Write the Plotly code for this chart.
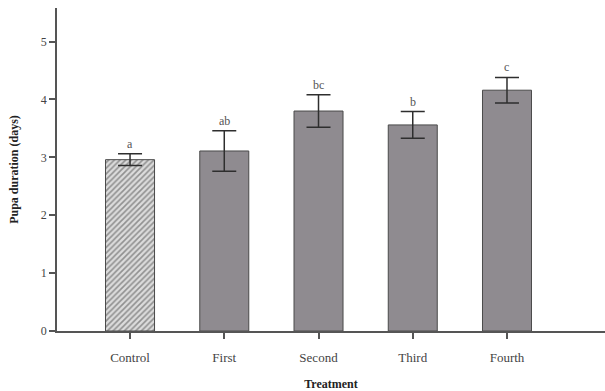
import plotly.graph_objects as go

categories = ["Control", "First", "Second", "Third", "Fourth"]
means = [2.96, 3.11, 3.80, 3.56, 4.16]
errors = [0.10, 0.35, 0.28, 0.23, 0.22]
letters = ["a", "ab", "bc", "b", "c"]
y_ticks = [0, 1, 2, 3, 4, 5]

serif = "Liberation Serif"

fig = go.Figure()
fig.add_trace(go.Bar(
    x=categories,
    y=means,
    width=0.52,
    marker=dict(
        color=["#dcdcdc", "#8f8b90", "#8f8b90", "#8f8b90", "#8f8b90"],
        line=dict(color="#4a4a4a", width=1),
        pattern=dict(
            shape=["/", "", "", "", ""],
            fgcolor="#7a7a7a",
            bgcolor=["#dcdcdc", "#8f8b90", "#8f8b90", "#8f8b90", "#8f8b90"],
            size=4,
            solidity=0.4,
        ),
    ),
    error_y=dict(type="data", array=errors, visible=True,
                 color="#2e2e2e", thickness=1.5, width=12),
    showlegend=False,
))

for c, m, e, l in zip(categories, means, errors, letters):
    fig.add_annotation(x=c, y=m + e, text=l, showarrow=False,
                       yanchor="bottom", yshift=1,
                       font=dict(family=serif, size=12, color="#555"))

fig.update_layout(
    width=605, height=391,
    margin=dict(l=57, r=0, t=8, b=60),
    plot_bgcolor="white", paper_bgcolor="white",
)
fig.update_xaxes(
    range=[-0.775, 5.04],
    showline=True, linecolor="#555", linewidth=1.5,
    ticks="outside", ticklen=6, tickcolor="#555", tickwidth=1.5,
    ticklabelstandoff=8,
    tickfont=dict(family=serif, size=13, color="#444"),
    showgrid=False, zeroline=False,
    title=dict(text="<b>Treatment</b>", font=dict(family=serif, size=12, color="#222"), standoff=16),
)
fig.update_yaxes(
    range=[0, 5.58],
    tickvals=y_ticks,
    showline=True, linecolor="#555", linewidth=1.5,
    ticks="outside", ticklen=6, tickcolor="#555", tickwidth=1.5,
    tickfont=dict(family=serif, size=12, color="#444"),
    showgrid=False, zeroline=False,
    title=dict(text="<b>Pupa duration (days)</b>", font=dict(family=serif, size=12, color="#222"), standoff=20),
)

fig.write_html("out.html")
